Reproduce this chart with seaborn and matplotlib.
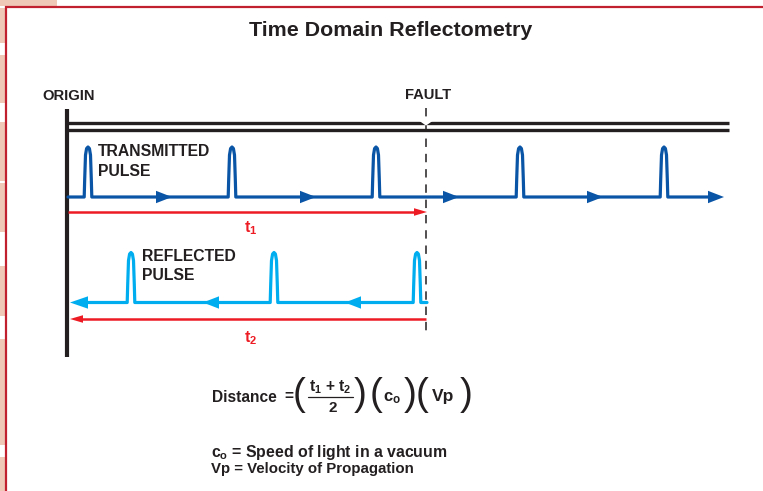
import matplotlib
matplotlib.use("Agg")
import matplotlib.pyplot as plt
import seaborn as sns
import numpy as np

# ---------------- data ----------------
title = "Time Domain Reflectometry"
origin_label = "ORIGIN"
fault_label = "FAULT"
transmitted_label = ["TRANSMITTED", "PULSE"]
reflected_label = ["REFLECTED", "PULSE"]
t1_label = r"t$_1$"
t2_label = r"t$_2$"

origin_x = 67
fault_x = 426
cable_end_x = 729

transmitted_pulse_x = [88, 232, 376, 520, 664]
transmitted_arrow_tips = [172, 316, 459, 603]
transmitted_end_tip = 724

reflected_pulse_x = [131, 274, 417]
reflected_arrow_tips = [203, 345]
reflected_end_tip = 70

pulse_offsets = [-3.8, -3.3, -2.5, -1.4, 0, 1.4, 2.5, 3.3, 3.8]
pulse_heights = [0, 18, 42, 48.5, 50, 48.5, 42, 18, 0]

legend_lines = [r"c$_\mathrm{o}$ = Speed of light in a vacuum",
                "Vp = Velocity of Propagation"]

# ---------------- style ----------------
sns.set_theme(style="white")
plt.rcParams["font.family"] = ["Liberation Sans", "DejaVu Sans"]
plt.rcParams["mathtext.fontset"] = "custom"
plt.rcParams["mathtext.rm"] = "Liberation Sans:bold"
plt.rcParams["mathtext.it"] = "Liberation Sans:bold"
plt.rcParams["mathtext.bf"] = "Liberation Sans:bold"
plt.rcParams["mathtext.sf"] = "Liberation Sans:bold"

BLACK = "#231F20"
BLUE = "#0A55A6"
LBLUE = "#00AEEF"
RED = "#ED1C24"
BORDER = "#C1202E"
PINK = "#EFC8B8"

fig = plt.figure(figsize=(7.63, 4.91), dpi=100)
ax = fig.add_axes([0, 0, 1, 1])
ax.set_xlim(0, 763)
ax.set_ylim(491, 0)
ax.axis("off")

# ---------------- decorative frame ----------------
for y0, y1 in [(8, 43), (55, 103), (122, 181), (183, 232), (266, 316), (339, 445), (457, 491)]:
    ax.add_patch(plt.Rectangle((0, y0), 5, y1 - y0, color=PINK, lw=0, zorder=1))
ax.add_patch(plt.Rectangle((0, 0), 57, 5.5, color=PINK, lw=0, zorder=1))
ax.plot([6, 6], [6, 491], color=BORDER, lw=1.6, solid_capstyle="butt", zorder=2)
ax.plot([5.2, 763], [7, 7], color=BORDER, lw=1.6, solid_capstyle="butt", zorder=2)

# ---------------- title ----------------
ax.text(391, 30, title, ha="center", va="center", fontsize=15.4,
        fontweight="bold", color=BLACK)

# ---------------- cable ----------------
ax.plot([origin_x, origin_x], [109, 357], color=BLACK, lw=3.0,
        solid_capstyle="butt", zorder=5)
for yy in (123.3, 130):
    ax.plot([origin_x, cable_end_x], [yy, yy], color=BLACK, lw=2.4,
            solid_capstyle="butt", zorder=4)
# notch at the fault
ax.fill([fault_x - 6.5, fault_x + 6.5, fault_x], [121, 121, 125.6],
        color="white", lw=0, zorder=6)
ax.plot([fault_x, fault_x], [108, 335], color=BLACK, lw=1.1,
        linestyle=(0, (5.5, 4.5)), zorder=3)

ax.text(42, 96, origin_label, ha="left", va="center", fontsize=10.6,
        fontweight="bold", color=BLACK)
ax.text(428, 95, fault_label, ha="center", va="center", fontsize=10.6,
        fontweight="bold", color=BLACK)


def waveform(start, end, pulses, base):
    xs, ys = [start], [base]
    for p in sorted(pulses):
        for o, h in zip(pulse_offsets, pulse_heights):
            xs.append(p + o)
            ys.append(base - h)
    xs.append(end)
    ys.append(base)
    return np.array(xs), np.array(ys)


def head(tip, y, direction, color, length=16, half=6.2):
    ax.fill([tip, tip - direction * length, tip - direction * length],
            [y, y - half, y + half], color=color, lw=0, zorder=8)


# ---------------- transmitted pulse ----------------
tb = 197
tx, ty = waveform(origin_x + 1, transmitted_end_tip - 14, transmitted_pulse_x, tb)
sns.lineplot(x=tx, y=ty, sort=False, estimator=None, ax=ax, color=BLUE,
             lw=2.3, zorder=7, legend=False)
for t in transmitted_arrow_tips:
    head(t, tb, 1, BLUE)
head(transmitted_end_tip, tb, 1, BLUE)
ax.text(98, 152, transmitted_label[0], ha="left", va="center", fontsize=11.3,
        fontweight="bold", color=BLACK)
ax.text(98, 171, transmitted_label[1], ha="left", va="center", fontsize=11.3,
        fontweight="bold", color=BLACK)

# t1 arrow
ax.plot([origin_x + 1, fault_x - 8], [212, 212], color=RED, lw=1.8,
        solid_capstyle="butt", zorder=7)
head(fault_x + 1, 212, 1, RED, length=13, half=3.8)
ax.text(251, 228, t1_label, ha="center", va="center", fontsize=11.5,
        fontweight="bold", color=RED)

# ---------------- reflected pulse ----------------
rb = 302.5
rx, ry = waveform(reflected_end_tip + 14, fault_x + 1, reflected_pulse_x, rb)
sns.lineplot(x=rx, y=ry, sort=False, estimator=None, ax=ax, color=LBLUE,
             lw=2.3, zorder=7, legend=False)
for t in reflected_arrow_tips:
    head(t, rb, -1, LBLUE)
head(reflected_end_tip, rb, -1, LBLUE, length=18)
ax.text(142, 256.5, reflected_label[0], ha="left", va="center", fontsize=11.3,
        fontweight="bold", color=BLACK)
ax.text(142, 275, reflected_label[1], ha="left", va="center", fontsize=11.3,
        fontweight="bold", color=BLACK)

# t2 arrow
ax.plot([reflected_end_tip + 8, fault_x], [319, 319], color=RED, lw=1.8,
        solid_capstyle="butt", zorder=7)
head(reflected_end_tip, 319, -1, RED, length=13, half=3.8)
ax.text(251, 338, t2_label, ha="center", va="center", fontsize=11.5,
        fontweight="bold", color=RED)

# ---------------- formula ----------------
fy = 397
kw = dict(fontweight="bold", color=BLACK, va="center")
pk = dict(fontweight="normal", color=BLACK, va="center", fontsize=28)
ax.text(212, fy, "Distance", ha="left", fontsize=11.2, **kw)
ax.text(289, fy - 1, "=", ha="center", fontsize=11.2, **kw)
ax.text(299, fy - 2, "(", ha="center", **pk)
ax.text(330, fy - 10, r"t$_1$ + t$_2$", ha="center", fontsize=11.2, **kw)
ax.plot([308, 353], [fy, fy], color=BLACK, lw=0.9)
ax.text(333, fy + 11, "2", ha="center", fontsize=11, **kw)
ax.text(360, fy - 2, ")", ha="center", **pk)
ax.text(376, fy - 2, "(", ha="center", **pk)
ax.text(392, fy + 1, r"c$_\mathrm{o}$", ha="center", fontsize=12, **kw)
ax.text(410, fy - 2, ")", ha="center", **pk)
ax.text(422, fy - 2, "(", ha="center", **pk)
ax.text(443, fy, "Vp", ha="center", fontsize=12.5, **kw)
ax.text(466, fy - 2, ")", ha="center", **pk)

ax.text(211, 452, legend_lines[0], ha="left", fontsize=11.4, **kw)
ax.text(211, 469, legend_lines[1], ha="left", fontsize=10.8, **kw)

fig.savefig("out.png", dpi=100)
